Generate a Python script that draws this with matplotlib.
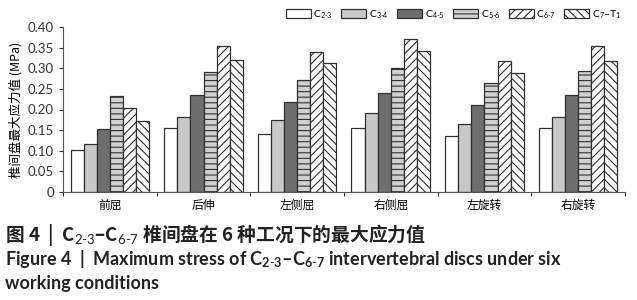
import matplotlib
matplotlib.use('Agg')
import matplotlib.pyplot as plt
import numpy as np

plt.rcParams['font.family'] = ['Lato', 'Noto Sans CJK SC', 'DejaVu Sans']
plt.rcParams['mathtext.fontset'] = 'custom'
plt.rcParams['mathtext.rm'] = 'Lato'
plt.rcParams['mathtext.it'] = 'Lato:italic'
plt.rcParams['mathtext.bf'] = 'Lato:bold'
plt.rcParams['hatch.linewidth'] = 0.8

conditions = ['前屈', '后伸', '左侧屈', '右侧屈', '左旋转', '右旋转']
segments = [r'C$_{2\text{-}3}$', r'C$_{3\text{-}4}$', r'C$_{4\text{-}5}$',
            r'C$_{5\text{-}6}$', r'C$_{6\text{-}7}$', r'C$_7$–T$_1$']

c23 = [0.103, 0.154, 0.141, 0.156, 0.136, 0.155]
c34 = [0.117, 0.183, 0.175, 0.192, 0.165, 0.183]
c45 = [0.153, 0.235, 0.218, 0.239, 0.210, 0.235]
c56 = [0.233, 0.292, 0.272, 0.300, 0.264, 0.293]
c67 = [0.204, 0.355, 0.340, 0.370, 0.318, 0.354]
c7t1 = [0.173, 0.320, 0.313, 0.343, 0.288, 0.318]

series = [c23, c34, c45, c56, c67, c7t1]
faces = ['white', '#c8c8c8', '#6e6e6e', '#d0d0d0', 'white', 'white']
hatches = [None, None, None, '---', '////', '\\\\\\\\']

fig = plt.figure(figsize=(6.37, 3.0), dpi=100)
ax = fig.add_axes([0.099, 0.36, 0.882, 0.55])

x = np.arange(len(conditions))
w = 0.14
for i, vals in enumerate(series):
    pos = x + (i - 2.5) * w
    ax.bar(pos, vals, width=w, color=faces[i], edgecolor='#303030',
           linewidth=0.9, label=segments[i], hatch=hatches[i])

ax.set_xlim(-0.5, len(conditions) - 0.5)
ax.set_ylim(0, 0.40)
ax.set_yticks(np.arange(0, 0.41, 0.05))
ax.set_yticklabels(['0'] + ['%.2f' % v for v in np.arange(0.05, 0.41, 0.05)])
ax.set_xticks(x)
ax.set_xticklabels(conditions, fontsize=8.5, family=['Noto Sans CJK SC'])
ax.set_xticks(np.arange(-0.5, len(conditions)), minor=True)
ax.tick_params(axis='x', which='major', length=0, pad=5)
ax.tick_params(axis='x', which='minor', length=3, direction='out')
ax.tick_params(axis='y', labelsize=9.5, length=3, colors='#333333')
ax.spines['top'].set_visible(False)
ax.spines['right'].set_visible(False)
ax.spines['left'].set_color('#555555')
ax.spines['bottom'].set_color('#555555')
ax.set_ylabel('椎间盘最大应力值 (MPa)', fontsize=9,
              family=['Noto Sans CJK SC', 'DejaVu Sans'], labelpad=4)

ax.legend(loc='lower right', bbox_to_anchor=(1.005, 1.0), ncol=6, frameon=False,
          fontsize=7.5, handlelength=2.4, handleheight=0.9, columnspacing=0.8,
          handletextpad=0.25, borderaxespad=0.2)

fig.text(0.008, 0.215, r'图 4  |  C$_{2\text{-}3}$–C$_{6\text{-}7}$ 椎间盘在 6 种工况下的最大应力值',
         fontsize=13.5, weight='bold', family=['Noto Sans CJK SC', 'DejaVu Sans'],
         color='#222222', va='center')
fig.text(0.008, 0.135, r'Figure 4  |  Maximum stress of C$_{\mathbf{2\text{-}3}}$–C$_{\mathbf{6\text{-}7}}$ intervertebral discs under six',
         fontsize=13, weight='bold', color='#222222', va='center')
fig.text(0.008, 0.055, 'working conditions',
         fontsize=13, weight='bold', color='#222222', va='center')

fig.savefig('out.png', dpi=100)
